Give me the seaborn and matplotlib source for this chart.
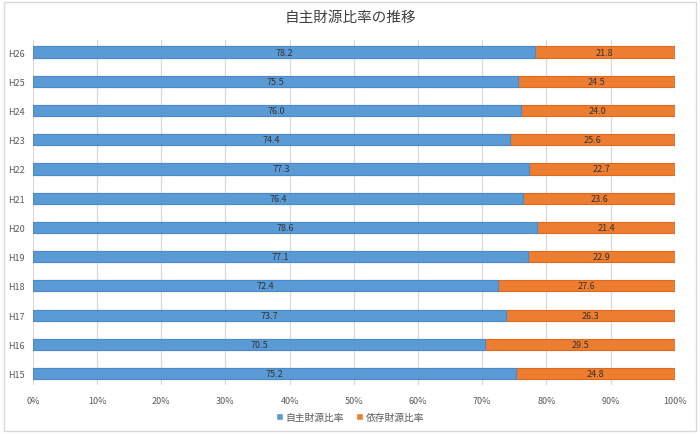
import numpy as np
import pandas as pd
import matplotlib as mpl
mpl.use("Agg")
from matplotlib import pyplot as plt
from matplotlib.patches import Rectangle, Patch
import seaborn as sns

# data (top row first)
years = ["H26", "H25", "H24", "H23", "H22", "H21", "H20", "H19", "H18", "H17", "H16", "H15"]
own_ratio = [78.2, 75.5, 76.0, 74.4, 77.3, 76.4, 78.6, 77.1, 72.4, 73.7, 70.5, 75.2]
dep_ratio = [21.8, 24.5, 24.0, 25.6, 22.7, 23.6, 21.4, 22.9, 27.6, 26.3, 29.5, 24.8]

BLUE = "#5B9BD5"
ORANGE = "#ED7D31"

sns.set_theme(style="white")
plt.rcParams['font.family'] = ['Noto Sans CJK JP', 'DejaVu Sans']

df = pd.DataFrame({"年度": years, "自主財源比率": own_ratio, "依存財源比率": dep_ratio})
df["合計"] = df["自主財源比率"] + df["依存財源比率"]

fig = plt.figure(figsize=(7, 4.35), dpi=100)
ax = fig.add_axes([0.047, 0.112, 0.917, 0.793])

# stacked bars: total (orange) behind, own share (blue) in front
sns.barplot(data=df, y="年度", x="合計", color=ORANGE, width=0.38, ax=ax,
            saturation=1, edgecolor="#E06A1B", linewidth=0.8, order=years)
sns.barplot(data=df, y="年度", x="自主財源比率", color=BLUE, width=0.38, ax=ax,
            saturation=1, edgecolor="#4A8ACB", linewidth=0.8, order=years)

# value labels centred in each segment
for i, (o, d) in enumerate(zip(own_ratio, dep_ratio)):
    ax.text(o / 2, i, f"{o:.1f}", ha="center", va="center", fontsize=6.5, color="#333333")
    ax.text(o + d / 2, i, f"{d:.1f}", ha="center", va="center", fontsize=6.5, color="#333333")

ax.set_xlim(0, 100)
ax.set_ylim(len(years) - 0.6, -0.4)
ax.set_xticks(np.arange(0, 101, 10))
ax.set_xticklabels([f"{t}%" for t in range(0, 101, 10)], fontsize=6.5, color="#595959")
ax.tick_params(axis="y", labelsize=6.5, labelcolor="#595959", length=0, pad=6)
ax.tick_params(axis="x", length=0, pad=8)
ax.set_xlabel("")
ax.set_ylabel("")
ax.grid(axis="x", color="#D9D9D9", linewidth=0.9)
ax.set_axisbelow(True)
for s in ax.spines.values():
    s.set_visible(False)

fig.text(0.5, 0.958, "自主財源比率の推移", ha="center", va="center", fontsize=10.5, color="#404040")

handles = [Patch(facecolor=BLUE, label="自主財源比率"), Patch(facecolor=ORANGE, label="依存財源比率")]
fig.legend(handles=handles, loc="center", bbox_to_anchor=(0.5, 0.04), ncol=2, frameon=False,
           fontsize=7, handlelength=0.7, handleheight=0.7, handletextpad=0.3, columnspacing=1.2,
           labelcolor="#595959")

# outer chart frame
fig.patches.append(Rectangle((0.006, 0.007), 0.988, 0.985, transform=fig.transFigure,
                             fill=False, edgecolor="#D9D9D9", linewidth=1))

fig.savefig("out.png", dpi=100)
